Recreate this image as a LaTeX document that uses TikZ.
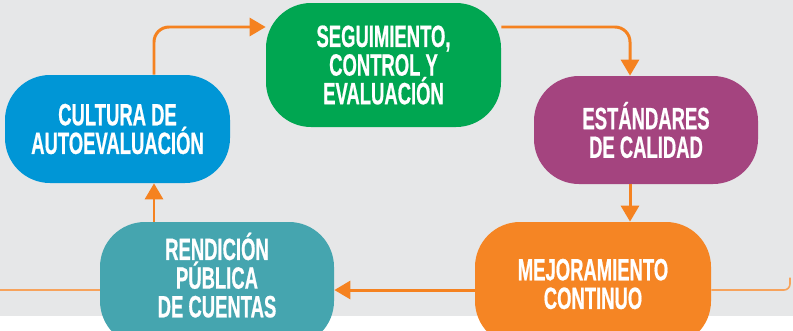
\documentclass[tikz,border=0pt]{standalone}
\usepackage{fontspec}
\setmainfont{Liberation Sans}[FakeStretch=0.6, BoldFeatures={FakeBold=0.6}]
\usetikzlibrary{arrows.meta}

\definecolor{fondo}{HTML}{E6E7E8}
\definecolor{naranja}{HTML}{F58220}
\definecolor{naranjaclaro}{HTML}{F7A35C}
\definecolor{azul}{HTML}{0096D6}
\definecolor{verde}{HTML}{00A651}
\definecolor{morado}{HTML}{A4447F}
\definecolor{naranjabox}{HTML}{F58524}
\definecolor{turquesa}{HTML}{45A5AF}

\tikzset{
  etapa/.style={rectangle, rounded corners=0.9cm, draw=none, text=white,
    font=\fontsize{17.5}{16.3}\selectfont\bfseries, align=center,
    minimum width=4.6cm, minimum height=2.16cm, inner sep=0pt},
  flecha/.style={line width=1.7pt, naranja, rounded corners=0.3cm,
    -{Triangle[length=0.32cm,width=0.36cm]}},
  linea/.style={line width=0.9pt, naranjaclaro, rounded corners=0.12cm}
}

\begin{document}
\begin{tikzpicture}

\useasboundingbox (0,0) rectangle (15.86,6.6);
\clip (0,0) rectangle (15.86,6.6);

% Fondo
\fill[fondo] (0,0.28) rectangle (15.86,6.6);

% Etapas del ciclo
\node[etapa, fill=azul, minimum width=4.5cm] (cultura) at (2.35,4.02) {CULTURA DE\\AUTOEVALUACIÓN};
\node[etapa, fill=verde, minimum width=4.7cm, minimum height=2.48cm] (seguimiento) at (7.67,5.3) {SEGUIMIENTO,\\CONTROL Y\\EVALUACIÓN};
\node[etapa, fill=morado, minimum width=4.48cm] (estandares) at (12.92,4.0) {ESTÁNDARES\\DE CALIDAD};
\node[etapa, fill=naranjabox, minimum width=4.72cm, minimum height=2.48cm] (mejoramiento) at (11.86,0.92) {MEJORAMIENTO\\CONTINUO};
\node[etapa, fill=turquesa, minimum width=4.68cm, minimum height=2.48cm, text depth=0.36cm] (rendicion) at (4.34,0.92) {RENDICIÓN\\PÚBLICA\\DE CUENTAS};

% Puntos de paso
\coordinate (izq) at (3.08,6.06);
\coordinate (der) at (12.6,6.06);
\coordinate (bordeizq) at (0,0.8);
\coordinate (bordeder) at (15.8,0.8);

% Conexiones del ciclo
\draw[flecha] (cultura.north -| izq) -- (izq) -- (izq -| seguimiento.west);
\draw[flecha] (der -| seguimiento.east) -- (der) -- (der |- estandares.north);
\draw[flecha] (estandares.south -| der) -- (mejoramiento.north -| der);
\draw[flecha] ([yshift=-0.12cm]mejoramiento.west) -- ([yshift=-0.12cm]rendicion.east);
\draw[flecha] (rendicion.north -| izq) -- (cultura.south -| izq);

% Lineas laterales
\draw[linea] (bordeizq) -- (bordeizq -| rendicion.west);
\draw[linea] (bordeder -| mejoramiento.east) -- (bordeder) -- ++(0,0.25);

\end{tikzpicture}
\end{document}
